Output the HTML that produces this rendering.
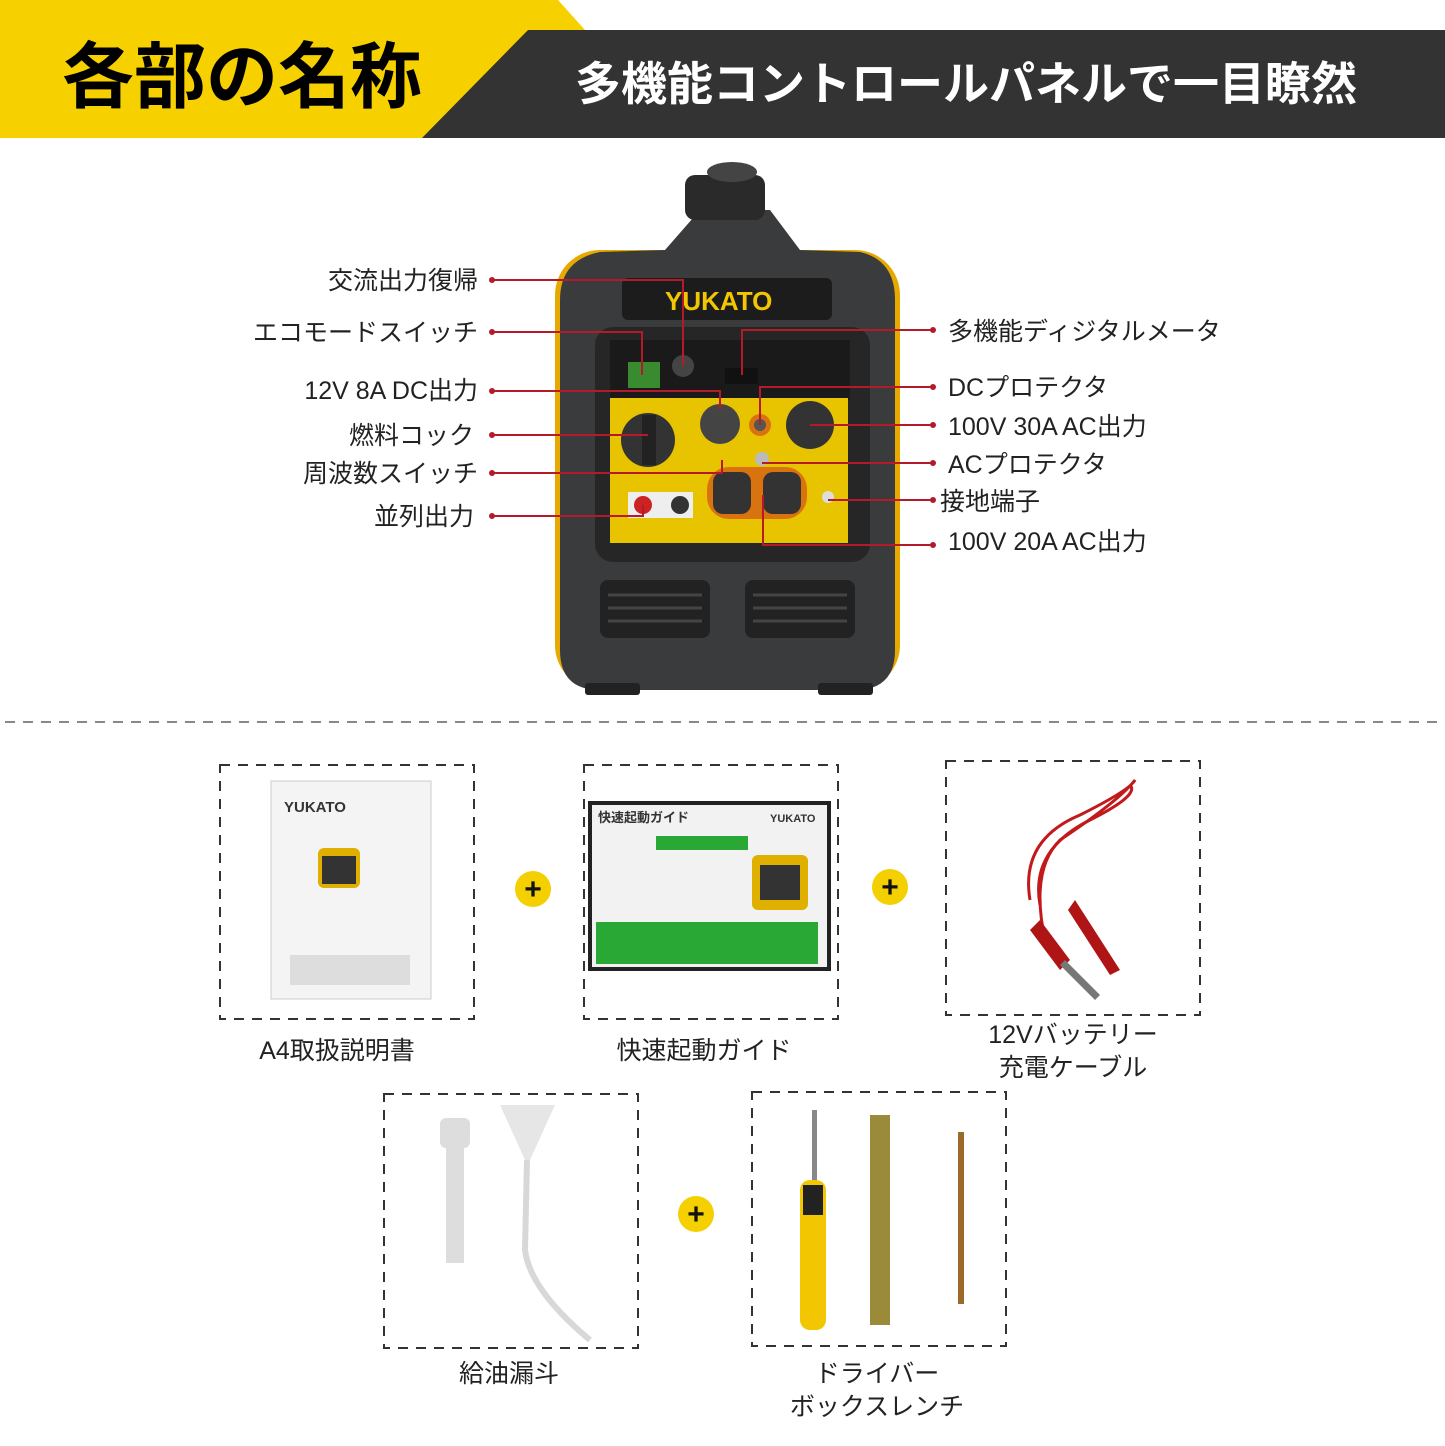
<!DOCTYPE html>
<html><head><meta charset="utf-8"><style>
body{margin:0;background:#fff;}
svg{display:block}
text{font-family:"Liberation Sans","Noto Sans CJK JP",sans-serif;}
</style></head><body>
<svg width="1445" height="1446" viewBox="0 0 1445 1446" xmlns="http://www.w3.org/2000/svg">
<rect width="1445" height="1446" fill="#fff"/>
<polygon points="0,0 558,0 585,30 528,30 440,138 0,138" fill="#f7d000"/>
<polygon points="528,30 1445,30 1445,138 422,138" fill="#333"/>
<text x="62" y="102" font-size="72" font-weight="bold" fill="#000">各部の名称</text>
<text x="575" y="100" font-size="46" font-weight="bold" fill="#fff">多機能コントロールパネルで一目瞭然</text>

<g>
<rect x="555" y="250" width="345" height="440" rx="45" fill="#e7a800"/>
<path d="M 700 210 L 770 210 L 800 250 L 860 252 Q 895 260 895 300 L 895 650 Q 895 690 855 690 L 600 690 Q 560 690 560 650 L 560 300 Q 560 260 600 252 L 665 250 Z" fill="#3a3b3d"/>
<rect x="685" y="175" width="80" height="45" rx="10" fill="#2a2a2a"/>
<ellipse cx="732" cy="172" rx="25" ry="10" fill="#444"/>
<rect x="622" y="278" width="210" height="42" rx="6" fill="#1c1c1c"/>
<text x="665" y="310" font-size="26" font-weight="bold" fill="#f2c600">YUKATO</text>
<rect x="595" y="327" width="275" height="235" rx="18" fill="#262626"/>
<rect x="610" y="340" width="240" height="60" fill="#1a1a1a"/>
<rect x="628" y="362" width="32" height="26" fill="#3a8a30"/>
<circle cx="683" cy="366" r="11" fill="#444"/>
<rect x="725" y="368" width="33" height="16" fill="#111"/>
<rect x="610" y="398" width="238" height="145" fill="#e8c300"/>
<circle cx="648" cy="440" r="27" fill="#333"/>
<rect x="642" y="415" width="14" height="50" fill="#222"/>
<circle cx="720" cy="424" r="20" fill="#444"/>
<circle cx="760" cy="425" r="11" fill="#d9730f"/>
<circle cx="760" cy="425" r="6" fill="#555"/>
<circle cx="810" cy="425" r="24" fill="#333"/>
<circle cx="762" cy="459" r="7" fill="#bbb"/>
<rect x="707" y="467" width="100" height="52" rx="22" fill="#d9730f"/>
<rect x="713" y="472" width="38" height="42" rx="10" fill="#333"/>
<rect x="763" y="472" width="38" height="42" rx="10" fill="#333"/>
<rect x="628" y="492" width="65" height="26" fill="#eee"/>
<circle cx="643" cy="505" r="9" fill="#c22"/>
<circle cx="680" cy="505" r="9" fill="#333"/>
<circle cx="828" cy="497" r="6" fill="#ddd"/>
<rect x="600" y="580" width="110" height="58" rx="8" fill="#222"/>
<rect x="745" y="580" width="110" height="58" rx="8" fill="#222"/>
<g stroke="#444" stroke-width="3">
<line x1="608" y1="595" x2="702" y2="595"/><line x1="608" y1="608" x2="702" y2="608"/><line x1="608" y1="621" x2="702" y2="621"/>
<line x1="753" y1="595" x2="847" y2="595"/><line x1="753" y1="608" x2="847" y2="608"/><line x1="753" y1="621" x2="847" y2="621"/>
</g>
<rect x="585" y="683" width="55" height="12" rx="3" fill="#222"/>
<rect x="818" y="683" width="55" height="12" rx="3" fill="#222"/>
</g>

<g stroke="#b41a2a" stroke-width="2" fill="none">
<polyline points="492,280 683,280 683,366"/>
<polyline points="492,332 642,332 642,375"/>
<polyline points="492,391 720,391 720,410"/>
<polyline points="492,435 648,435"/>
<polyline points="492,473 722,473 722,460"/>
<polyline points="492,516 643,516 643,505"/>
<polyline points="933,330 742,330 742,375"/>
<polyline points="933,387 760,387 760,425"/>
<polyline points="933,425 810,425"/>
<polyline points="933,463 762,463"/>
<polyline points="933,500 828,500"/>
<polyline points="933,545 763,545 763,495"/>
</g>
<g fill="#b41a2a">
<circle cx="492" cy="280" r="3"/><circle cx="492" cy="332" r="3"/><circle cx="492" cy="391" r="3"/>
<circle cx="492" cy="435" r="3"/><circle cx="492" cy="473" r="3"/><circle cx="492" cy="516" r="3"/>
<circle cx="933" cy="330" r="3"/><circle cx="933" cy="387" r="3"/><circle cx="933" cy="425" r="3"/>
<circle cx="933" cy="463" r="3"/><circle cx="933" cy="500" r="3"/><circle cx="933" cy="545" r="3"/>
</g>
<g font-size="25" fill="#222">
<text x="478" y="289" text-anchor="end">交流出力復帰</text>
<text x="478" y="341" text-anchor="end">エコモードスイッチ</text>
<text x="478" y="399" text-anchor="end">12V 8A DC出力</text>
<text x="474" y="444" text-anchor="end">燃料コック</text>
<text x="478" y="482" text-anchor="end">周波数スイッチ</text>
<text x="474" y="525" text-anchor="end">並列出力</text>
<text x="948" y="340">多機能ディジタルメータ</text>
<text x="948" y="396">DCプロテクタ</text>
<text x="948" y="435">100V 30A AC出力</text>
<text x="948" y="473">ACプロテクタ</text>
<text x="940" y="510">接地端子</text>
<text x="948" y="550">100V 20A AC出力</text>
</g>

<line x1="5" y1="722" x2="1445" y2="722" stroke="#888" stroke-width="2" stroke-dasharray="10,8"/>

<g fill="none" stroke="#333" stroke-width="2" stroke-dasharray="10,8">
<rect x="220" y="765" width="254" height="254"/>
<rect x="584" y="765" width="254" height="254"/>
<rect x="946" y="761" width="254" height="254"/>
<rect x="384" y="1094" width="254" height="254"/>
<rect x="752" y="1092" width="254" height="254"/>
</g>
<rect x="271" y="781" width="160" height="218" fill="#f4f4f4" stroke="#ccc"/>
<text x="284" y="812" font-size="15" font-weight="bold" fill="#333">YUKATO</text>
<rect x="318" y="848" width="42" height="40" rx="6" fill="#e0b000"/>
<rect x="322" y="856" width="34" height="28" fill="#333"/>
<rect x="290" y="955" width="120" height="30" fill="#ddd"/>
<rect x="588" y="801" width="243" height="170" fill="#222"/>
<rect x="592" y="805" width="235" height="162" fill="#f2f2f2"/>
<text x="598" y="822" font-size="13" font-weight="bold" fill="#333">快速起動ガイド</text>
<text x="770" y="822" font-size="11" font-weight="bold" fill="#333">YUKATO</text>
<rect x="656" y="836" width="92" height="14" fill="#2aa835"/>
<rect x="596" y="922" width="222" height="42" fill="#2aa835"/>
<rect x="752" y="855" width="56" height="55" rx="6" fill="#e0b000"/>
<rect x="760" y="865" width="40" height="35" fill="#333"/>
<g stroke="#c21a1a" stroke-width="3" fill="none">
<path d="M1030 900 Q1020 840 1080 815 Q1130 790 1135 780 Q1120 800 1060 840 Q1030 870 1045 940"/>
<path d="M1040 905 Q1030 850 1090 820 Q1140 795 1130 785"/>
</g>
<path d="M1040 920 L1070 960 L1060 970 L1030 930Z" fill="#b01515"/>
<path d="M1075 900 L1120 970 L1110 975 L1068 910Z" fill="#b01515"/>
<path d="M1065 960 L1100 995 L1095 1000 L1060 965Z" fill="#777"/>
<rect x="440" y="1118" width="30" height="30" rx="6" fill="#ddd"/>
<rect x="446" y="1145" width="18" height="118" fill="#ddd"/>
<polygon points="500,1105 555,1105 530,1160 525,1160" fill="#e6e6e6"/>
<path d="M527 1160 L525 1250 Q530 1290 590 1340" stroke="#d8d8d8" stroke-width="6" fill="none"/>
<rect x="812" y="1110" width="5" height="80" fill="#888"/>
<rect x="800" y="1180" width="26" height="150" rx="10" fill="#f2c600"/>
<rect x="803" y="1185" width="20" height="30" fill="#222"/>
<rect x="870" y="1115" width="20" height="210" fill="#9b8a3a"/>
<rect x="958" y="1132" width="6" height="172" fill="#9b6a2a"/>

<g>
<circle cx="533" cy="889" r="18" fill="#f5d000"/><text x="533" y="899" font-size="30" font-weight="bold" text-anchor="middle" fill="#111">+</text>
<circle cx="890" cy="887" r="18" fill="#f5d000"/><text x="890" y="897" font-size="30" font-weight="bold" text-anchor="middle" fill="#111">+</text>
<circle cx="696" cy="1214" r="18" fill="#f5d000"/><text x="696" y="1224" font-size="30" font-weight="bold" text-anchor="middle" fill="#111">+</text>
</g>
<g font-size="25" fill="#222" text-anchor="middle">
<text x="337" y="1059">A4取扱説明書</text>
<text x="704" y="1059">快速起動ガイド</text>
<text x="1073" y="1043">12Vバッテリー</text>
<text x="1073" y="1076">充電ケーブル</text>
<text x="509" y="1382">給油漏斗</text>
<text x="877" y="1382">ドライバー</text>
<text x="877" y="1415">ボックスレンチ</text>
</g>
</svg>
</body></html>
